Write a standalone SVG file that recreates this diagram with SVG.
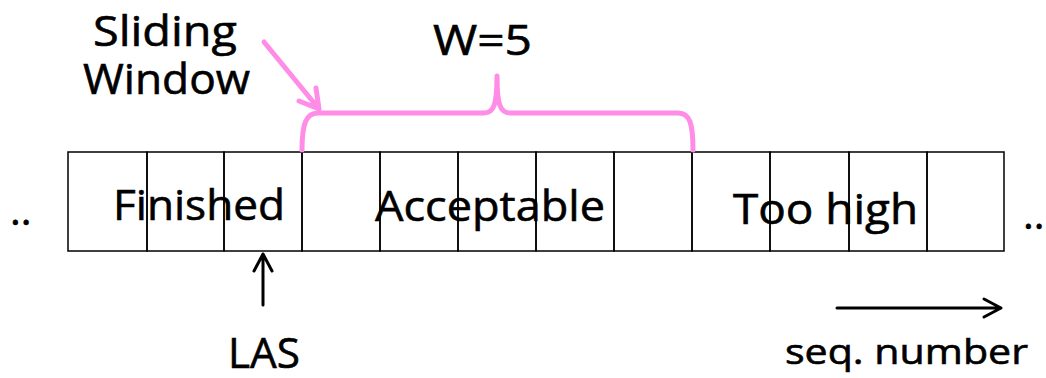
<svg xmlns="http://www.w3.org/2000/svg" width="1046" height="378" viewBox="0 0 1046 378">
<style>
.t{font-family:"Open Sans","Liberation Sans",sans-serif;fill:#000;stroke:#000;stroke-width:0.6}
.cell{fill:none;stroke:#000;stroke-width:1.5}
.pink{fill:none;stroke:#ff8ce6;stroke-width:5;stroke-linecap:round;stroke-linejoin:round}
.blk{fill:none;stroke:#000;stroke-width:3;stroke-linecap:round;stroke-linejoin:round}
</style>
<rect width="1046" height="378" fill="#fff"/>
<g id="cells">
<rect class="cell" x="68" y="152" width="79" height="99"/>
<rect class="cell" x="147" y="152" width="77" height="99"/>
<rect class="cell" x="224" y="152" width="78" height="99"/>
<rect class="cell" x="302" y="152" width="78" height="99"/>
<rect class="cell" x="380" y="152" width="78" height="99"/>
<rect class="cell" x="458" y="152" width="78" height="99"/>
<rect class="cell" x="536" y="152" width="78" height="99"/>
<rect class="cell" x="614" y="152" width="78" height="99"/>
<rect class="cell" x="692" y="152" width="78" height="99"/>
<rect class="cell" x="770" y="152" width="79" height="99"/>
<rect class="cell" x="849" y="152" width="78" height="99"/>
<rect class="cell" x="927" y="152" width="77" height="99"/>
</g>
<g id="labels">
<text class="t" x="113" y="220" font-size="42" textLength="172" lengthAdjust="spacingAndGlyphs">Finished</text>
<text class="t" x="375" y="221" font-size="42" textLength="230" lengthAdjust="spacingAndGlyphs">Acceptable</text>
<text class="t" x="733" y="224" font-size="42" textLength="185" lengthAdjust="spacingAndGlyphs">Too high</text>
<text class="t" x="10" y="225" font-size="41">..</text>
<text class="t" x="1023" y="229" font-size="41">..</text>
</g>
<g id="sliding-window-label">
<text class="t" x="93" y="46" font-size="42" textLength="144" lengthAdjust="spacingAndGlyphs">Sliding</text>
<text class="t" x="83" y="94" font-size="42" textLength="167" lengthAdjust="spacingAndGlyphs">Window</text>
</g>
<g id="w5">
<text class="t" x="433" y="55" font-size="42" textLength="99" lengthAdjust="spacingAndGlyphs">W=5</text>
</g>
<g id="las">
<text class="t" x="228" y="368" font-size="42" textLength="72" lengthAdjust="spacingAndGlyphs">LAS</text>
</g>
<g id="seq">
<text class="t" x="785" y="364" font-size="35" textLength="243" lengthAdjust="spacingAndGlyphs">seq. number</text>
</g>
<g id="connectors">
<path class="pink" d="M302,150 C302,124 306,113 318,113 L484,113 C494,113 497,104 497,76 C497,104 500,113 510,113 L678,113 C690,113 693,124 693,150"/>
<path class="pink" d="M264,42 L319,109 M299,101 L319,109 L316,88"/>
<path class="blk" d="M263,305 L263,254 M254,271 L263,254 L272,271"/>
<path class="blk" d="M837,308 L1001,308 M984,299 L1001,308 L984,317"/>
</g>
</svg>
